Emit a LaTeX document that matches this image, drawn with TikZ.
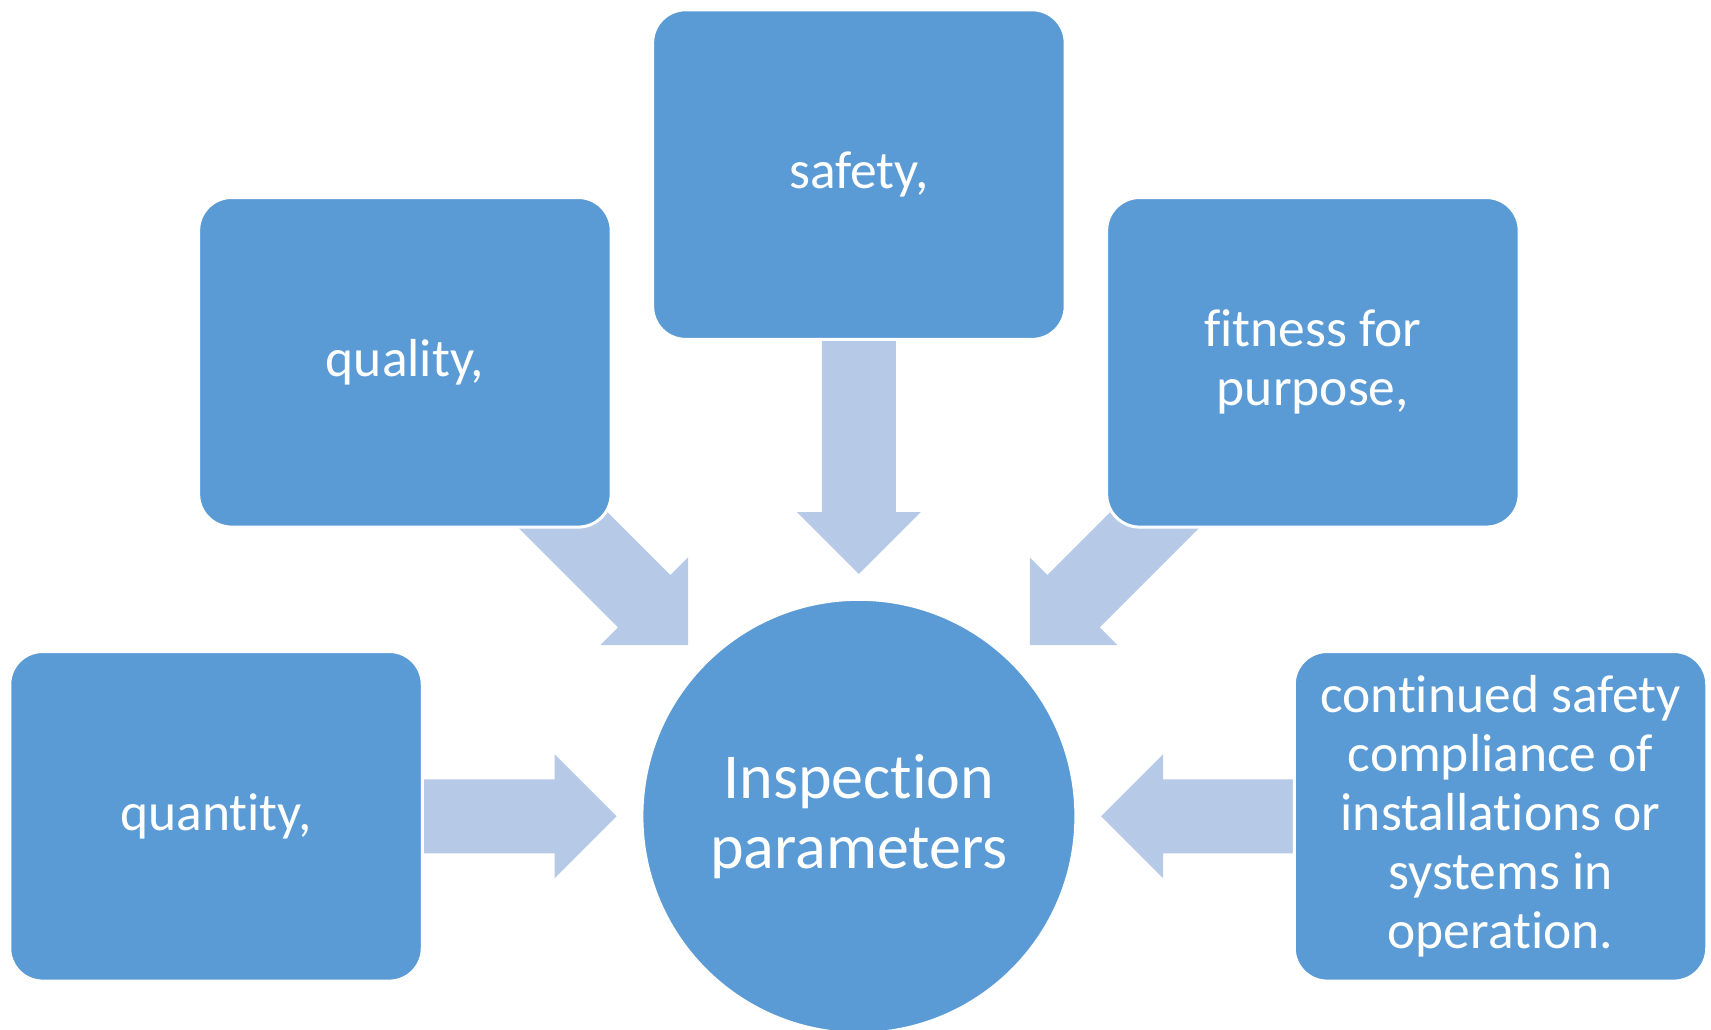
\documentclass[tikz,border=0pt]{standalone}
\usepackage{fontspec}
\setmainfont{Carlito}[Ligatures=NoCommon]
\definecolor{boxblue}{HTML}{5B9BD5}
\definecolor{arrowblue}{HTML}{B6CAE8}
\tikzset{
  x=1pt, y=1pt,
  card/.style={shape=rectangle, rounded corners=33, fill=boxblue, draw=white, line width=3,
    minimum width=412.5, minimum height=329.6, inner sep=0, text=white, align=center,
    font=\fontsize{53.5}{58.8}\selectfont},
  hub/.style={shape=circle, fill=boxblue, draw=white, line width=3, minimum size=434,
    inner sep=0, text=white, align=center, font=\fontsize{64}{70}\selectfont},
  pics/barrow/.style={code={
    \fill[arrowblue] (0,-37) -- (#1-62,-37) -- (#1-62,-62) -- (#1,0) -- (#1-62,62) -- (#1-62,37) -- (0,37) -- cycle;
  }}
}
\begin{document}
\begin{tikzpicture}
\useasboundingbox (0,0) rectangle (1711,-1030);
% arrows (drawn first, boxes cover their tails)
\pic[rotate=-90] at (858.9,-330) {barrow=244};
\pic at (415,-816.3) {barrow=201.6};
\pic[rotate=180] at (1300,-816.3) {barrow=198.9};
\pic[rotate=-45] at (525.4,-482.4) {barrow=230};
\pic[rotate=-135] at (1192.4,-482.4) {barrow=230};
% nodes
\node[card] (safety) at (858.9,-174.6) {safety,};
\node[card] (quality) at (404.9,-362.3) {quality,};
\node[card] (fitness) at (1312.9,-362.3) {fitness for\\purpose,};
\node[card] (quantity) at (216,-816.3) {quantity,};
\node[card] (continued) at (1500.5,-816.3) {continued safety\\compliance of\\installations or\\systems in\\operation.};
\node[hub] (center) at (858.9,-816.3) {Inspection\\parameters};
\end{tikzpicture}
\end{document}
